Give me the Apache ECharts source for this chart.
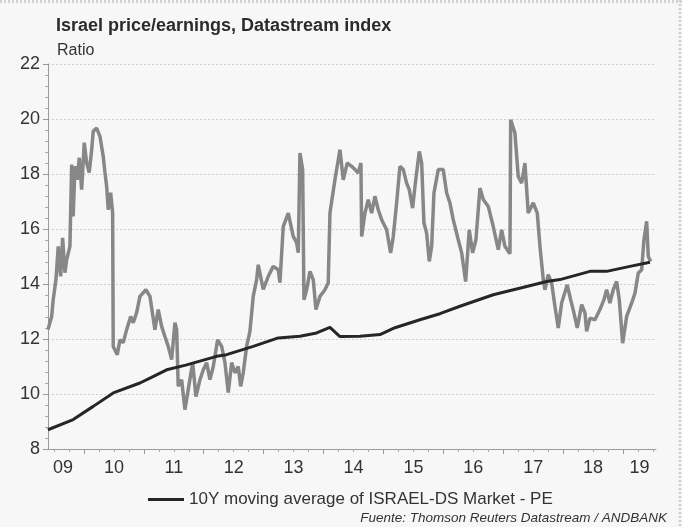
<!DOCTYPE html>
<html>
<head>
<meta charset="utf-8">
<script src="https://cdn.jsdelivr.net/npm/echarts@6/dist/echarts.min.js"></script>
<style>
  html, body { margin: 0; padding: 0; background: #f7f7f7; }
  #chart { width: 682px; height: 527px; }
</style>
</head>
<body>
<div id="chart"></div>
<script>
// P/E ratio (x = decimal year)
var peYears = [
  2009.399, 2009.461, 2009.487, 2009.533, 2009.571, 2009.611, 2009.644, 2009.683, 2009.711, 2009.766,
  2009.795, 2009.821, 2009.850, 2009.888, 2009.922, 2009.962, 2010.005, 2010.045, 2010.088, 2010.129,
  2010.155, 2010.212, 2010.267, 2010.322, 2010.351, 2010.379, 2010.406, 2010.446, 2010.479, 2010.489,
  2010.556, 2010.601, 2010.656, 2010.713, 2010.780, 2010.823, 2010.880, 2010.935, 2011.035, 2011.102,
  2011.185, 2011.240, 2011.297, 2011.352, 2011.407, 2011.464, 2011.519, 2011.548, 2011.574, 2011.631,
  2011.686, 2011.741, 2011.815, 2011.870, 2011.937, 2011.992, 2012.048, 2012.104, 2012.159, 2012.232,
  2012.299, 2012.354, 2012.409, 2012.466, 2012.521, 2012.576, 2012.616, 2012.659, 2012.716, 2012.771,
  2012.826, 2012.883, 2012.910, 2012.993, 2013.077, 2013.160, 2013.244, 2013.272, 2013.327, 2013.411,
  2013.494, 2013.551, 2013.578, 2013.606, 2013.651, 2013.673, 2013.718, 2013.773, 2013.828, 2013.873,
  2013.940, 2014.023, 2014.078, 2014.107, 2014.190, 2014.274, 2014.329, 2014.396, 2014.469, 2014.524,
  2014.579, 2014.624, 2014.636, 2014.691, 2014.746, 2014.803, 2014.858, 2014.913, 2014.970, 2015.053,
  2015.120, 2015.164, 2015.220, 2015.275, 2015.331, 2015.387, 2015.431, 2015.487, 2015.526, 2015.598,
  2015.638, 2015.676, 2015.721, 2015.765, 2015.805, 2015.843, 2015.915, 2015.998, 2016.055, 2016.110,
  2016.165, 2016.249, 2016.306, 2016.372, 2016.432, 2016.489, 2016.544, 2016.611, 2016.666, 2016.750,
  2016.833, 2016.917, 2016.973, 2017.028, 2017.083, 2017.112, 2017.124, 2017.195, 2017.250, 2017.307,
  2017.362, 2017.417, 2017.501, 2017.568, 2017.613, 2017.668, 2017.696, 2017.751, 2017.808, 2017.863,
  2017.918, 2017.975, 2018.068, 2018.125, 2018.180, 2018.235, 2018.309, 2018.364, 2018.392, 2018.447,
  2018.531, 2018.614, 2018.681, 2018.726, 2018.781, 2018.836, 2018.893, 2018.937, 2018.993, 2019.060,
  2019.144, 2019.199, 2019.254, 2019.311, 2019.349, 2019.394, 2019.421, 2019.461
];
var peValues = [
  12.34, 12.82, 13.43, 14.16, 15.37, 14.28, 15.68, 14.41, 14.88, 15.37,
  18.34, 16.46, 18.28, 17.79, 18.59, 17.43, 19.14, 18.41, 18.05, 18.88,
  19.55, 19.67, 19.37, 18.64, 18.05, 17.55, 16.70, 17.32, 16.59, 11.73,
  11.43, 11.97, 11.87, 12.34, 12.82, 12.59, 12.96, 13.55, 13.79, 13.55,
  12.34, 13.07, 12.46, 12.09, 11.73, 11.25, 12.59, 12.34, 10.28, 10.52,
  9.43, 10.16, 11.14, 9.91, 10.52, 10.88, 11.14, 10.52, 11.00, 11.97,
  11.73, 11.14, 10.05, 11.14, 10.77, 11.00, 10.28, 10.77, 11.73, 12.28,
  13.55, 14.16, 14.70, 13.80, 14.28, 14.64, 14.52, 14.05, 16.09, 16.58,
  15.73, 15.50, 15.14, 18.76, 18.16, 13.43, 13.79, 14.46, 14.16, 13.07,
  13.55, 13.79, 14.04, 16.58, 17.79, 18.88, 17.79, 18.40, 18.28, 18.16,
  18.04, 18.40, 15.73, 16.58, 17.07, 16.58, 17.19, 16.70, 16.34, 15.97,
  15.13, 15.73, 16.95, 18.28, 18.16, 17.67, 17.43, 16.76, 17.55, 18.82,
  18.40, 16.22, 15.85, 14.82, 15.37, 17.31, 18.16, 18.16, 17.31, 16.95,
  16.34, 15.61, 15.13, 14.09, 15.97, 15.13, 15.61, 17.49, 17.07, 16.82,
  16.09, 15.25, 15.97, 15.37, 15.19, 15.10, 19.97, 19.49, 17.91, 17.67,
  18.40, 16.58, 16.95, 16.58, 15.37, 14.16, 13.79, 14.34, 14.04, 13.19,
  12.40, 13.31, 13.97, 13.43, 12.95, 12.40, 13.25, 12.95, 12.28, 12.76,
  12.70, 13.07, 13.43, 13.79, 13.31, 13.79, 14.09, 13.43, 11.85, 12.82,
  13.31, 13.67, 14.40, 14.52, 15.61, 16.28, 15.00, 14.82
];

// 10Y moving average
var maYears = [
  2009.399, 2009.821, 2010.155, 2010.489, 2010.935, 2011.102, 2011.381, 2011.700, 2012.215, 2012.382,
  2012.826, 2013.244, 2013.606, 2013.885, 2014.107, 2014.274, 2014.608, 2014.942, 2015.192, 2015.609,
  2015.943, 2016.277, 2016.833, 2017.391, 2017.725, 2017.947, 2018.447, 2018.726, 2019.115, 2019.449
];
var maValues = [
  8.70, 9.07, 9.55, 10.04, 10.40, 10.58, 10.88, 11.05, 11.37, 11.43,
  11.73, 12.04, 12.10, 12.22, 12.42, 12.09, 12.10, 12.16, 12.41, 12.70,
  12.92, 13.19, 13.61, 13.91, 14.09, 14.16, 14.46, 14.46, 14.64, 14.79
];

var yearTicks = [2010, 2011, 2012, 2013, 2014, 2015, 2016, 2017, 2018, 2019];
var yearLabelPos = [2009.65, 2010.5, 2011.5, 2012.5, 2013.5, 2014.5, 2015.5, 2016.5, 2017.5, 2018.5, 2019.275];
var quarterTicks = [];
for (var q = 2009.5; q < 2019.6; q += 0.25) {
  if (q % 1 !== 0) quarterTicks.push(q);
}

var xMin = 2009.4, xMax = 2019.55;
var maName = '10Y moving average of ISRAEL-DS Market - PE';
var fontFam = '"Liberation Sans", Arial, sans-serif';

function pairs(xs, ys) {
  return xs.map(function (x, i) { return [x, ys[i]]; });
}

var chart = echarts.init(document.getElementById('chart'));

var option = {
  backgroundColor: '#f7f7f7',
  animation: false,
  textStyle: { fontFamily: fontFam },
  title: [
    {
      text: 'Israel price/earnings, Datastream index',
      left: 51, top: 12,
      textStyle: { fontSize: 18, fontWeight: 'bold', color: '#2b2b2b', fontFamily: fontFam }
    },
    {
      text: 'Ratio',
      left: 52, top: 38,
      textStyle: { fontSize: 16, fontWeight: 'normal', color: '#333', fontFamily: fontFam }
    }
  ],
  grid: { left: 48, right: 26, top: 64, bottom: 78 },
  legend: {
    data: [maName],
    left: 143, top: 486,
    icon: 'rect', itemWidth: 36, itemHeight: 3,
    textStyle: { fontSize: 17, color: '#333', fontFamily: fontFam }
  },
  xAxis: [
    {
      type: 'value', min: xMin, max: xMax,
      axisLine: { lineStyle: { color: '#9a9a9a' } },
      axisTick: { customValues: yearTicks, length: 5, lineStyle: { color: '#9a9a9a' } },
      axisLabel: {
        customValues: yearLabelPos,
        margin: 10,
        fontSize: 18, color: '#333', fontFamily: fontFam,
        formatter: function (v) {
          var y = Math.floor(v) % 100;
          return (y < 10 ? '0' : '') + y;
        }
      },
      splitLine: { show: false }
    },
    {
      type: 'value', min: xMin, max: xMax, position: 'bottom',
      axisLine: { show: false },
      axisTick: { customValues: quarterTicks, length: 3, lineStyle: { color: '#a8a8a8' } },
      axisLabel: { show: false },
      splitLine: { show: false }
    }
  ],
  yAxis: {
    type: 'value', min: 8, max: 22, interval: 2,
    axisLine: { show: true, lineStyle: { color: '#9a9a9a' } },
    axisTick: { show: true, length: 5, lineStyle: { color: '#9a9a9a' } },
    minorTick: { show: true, splitNumber: 5, length: 3, lineStyle: { color: '#a8a8a8' } },
    axisLabel: { fontSize: 18, color: '#333', margin: 8, fontFamily: fontFam },
    splitLine: { lineStyle: { color: '#cfcfcf', type: [2, 2] } }
  },
  series: [
    {
      name: 'ISRAEL-DS Market - PE',
      type: 'line',
      data: pairs(peYears, peValues),
      showSymbol: false,
      lineStyle: { color: '#878787', width: 3.5 },
      itemStyle: { color: '#878787' },
      z: 2
    },
    {
      name: maName,
      type: 'line',
      data: pairs(maYears, maValues),
      showSymbol: false,
      lineStyle: { color: '#262626', width: 3 },
      itemStyle: { color: '#262626' },
      z: 3
    }
  ],
  graphic: [
    {
      type: 'text', right: 15, top: 511,
      style: {
        text: 'Fuente: Thomson Reuters Datastream / ANDBANK',
        font: 'italic 13.5px "Liberation Sans", Arial, sans-serif',
        fill: '#333'
      }
    },
    {
      type: 'line',
      shape: { x1: 0, y1: 1.5, x2: 682, y2: 1.5 },
      style: { stroke: '#d2d2d2', lineWidth: 3, lineDash: [2, 2] }
    },
    {
      type: 'line',
      shape: { x1: 680, y1: 0, x2: 680, y2: 527 },
      style: { stroke: '#d2d2d2', lineWidth: 3, lineDash: [2, 2] }
    }
  ]
};

chart.setOption(option);
</script>
</body>
</html>
